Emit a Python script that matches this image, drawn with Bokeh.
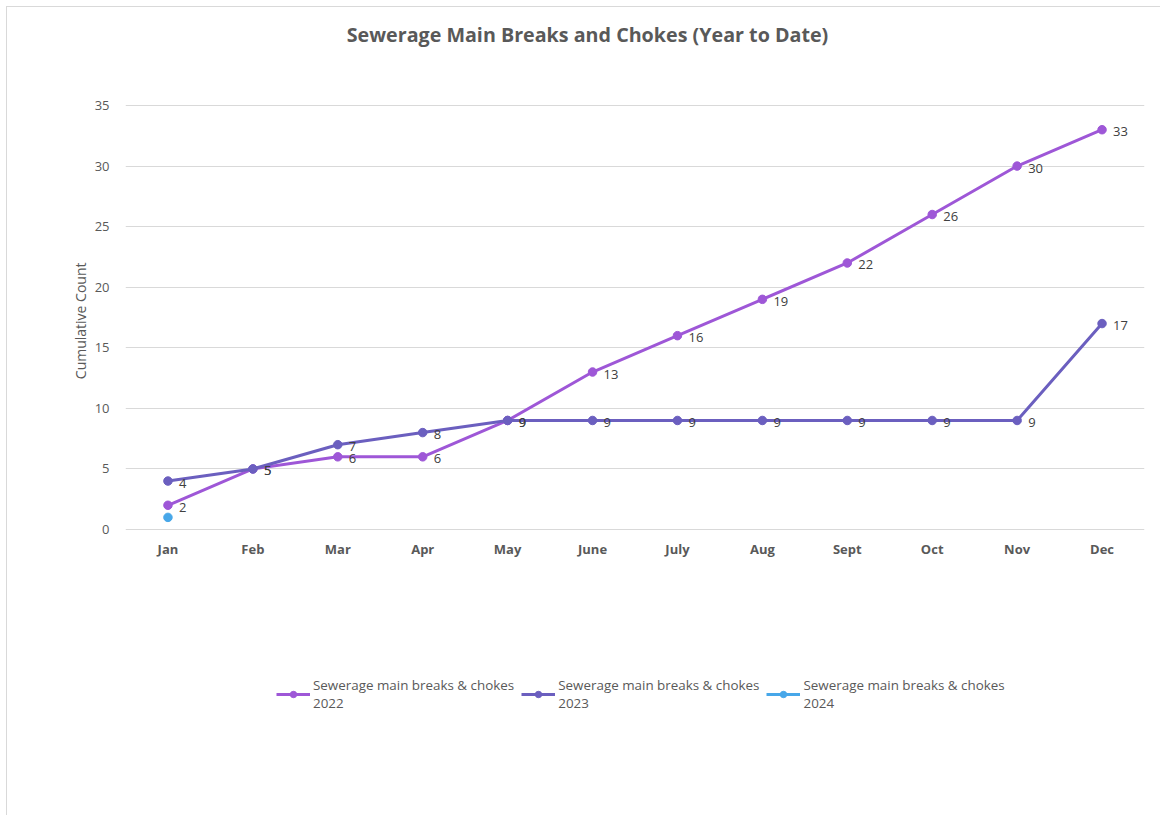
from bokeh.plotting import figure
from bokeh.models import ColumnDataSource, Range1d, FixedTicker, Legend, LegendItem, Title, Label
from bokeh.core.properties import value
from bokeh.embed import file_html
from bokeh.resources import INLINE

# ---- data ----
months = ["Jan", "Feb", "Mar", "Apr", "May", "June", "July", "Aug", "Sept", "Oct", "Nov", "Dec"]
y2022 = [2, 5, 6, 6, 9, 13, 16, 19, 22, 26, 30, 33]
y2023 = [4, 5, 7, 8, 9, 9, 9, 9, 9, 9, 9, 17]
y2024 = [1]
series_names = [
    "Sewerage main breaks & chokes\n2022",
    "Sewerage main breaks & chokes\n2023",
    "Sewerage main breaks & chokes\n2024",
]
y_ticks = [0, 5, 10, 15, 20, 25, 30, 35]
title_text = "Sewerage Main Breaks and Chokes (Year to Date)"
y_label = "Cumulative Count"

# ---- layout (canvas pixels) ----
W, H = 1154, 809
LEFT, RIGHT = 118, 17          # frame left/right borders
TOP_Y = 98                     # pixel row of the top tick (35)
ZERO_Y = 522                   # pixel row of 0
BOTTOM = 46                    # border below the frame
FRAME_BOTTOM = H - BOTTOM
ppu = (ZERO_Y - TOP_Y) / (y_ticks[-1] - y_ticks[0])
y_hi = y_ticks[-1] + TOP_Y / ppu
y_lo = y_ticks[0] - (FRAME_BOTTOM - ZERO_Y) / ppu

# ---- styles ----
colors = ["#9e57d7", "#6b5fbf", "#47a7e9"]
FONT = "Open Sans"
GRAY = "#595959"
LABEL_GRAY = "#404040"

p = figure(
    width=W, height=H,
    x_range=Range1d(-0.5, len(months) - 0.5),
    y_range=Range1d(y_lo, y_hi),
    output_backend="svg", toolbar_location=None,
    min_border_left=LEFT, min_border_right=RIGHT, min_border_top=0, min_border_bottom=BOTTOM,
)
p.styles = {"margin-left": "6px", "margin-top": "6px",
            "border-left": "1px solid #d9d9d9", "border-top": "1px solid #d9d9d9"}
p.outline_line_color = None
p.background_fill_color = "white"
p.border_fill_color = "white"
p.title.text = ""

# title (inside the frame, screen units from frame bottom-left)
p.add_layout(Label(x=462, y=FRAME_BOTTOM - 27, x_units="screen", y_units="screen",
                   text=title_text, text_align="center", text_baseline="middle",
                   text_font=FONT, text_font_size="19.7px", text_font_style="bold",
                   text_color=GRAY))

# axes
p.xaxis.fixed_location = 0
p.xaxis.ticker = FixedTicker(ticks=list(range(len(months))))
p.xaxis.major_label_overrides = {i: m for i, m in enumerate(months)}
p.xaxis.axis_line_color = None
p.xaxis.major_tick_line_color = None
p.xaxis.minor_tick_line_color = None
p.xaxis.major_label_text_font = FONT
p.xaxis.major_label_text_font_size = "13px"
p.xaxis.major_label_text_font_style = "bold"
p.xaxis.major_label_text_color = GRAY
p.xaxis.major_label_standoff = 4

p.yaxis.ticker = FixedTicker(ticks=y_ticks)
p.yaxis.axis_line_color = None
p.yaxis.major_tick_line_color = None
p.yaxis.minor_tick_line_color = None
p.yaxis.major_label_text_font = FONT
p.yaxis.major_label_text_font_size = "13px"
p.yaxis.major_label_text_color = GRAY
p.yaxis.major_label_standoff = 10

ytitle = Title(text=y_label, align="right", offset=255, standoff=4,
               text_font=FONT, text_font_size="14px", text_font_style="normal",
               text_color=GRAY)
p.add_layout(ytitle, "left")

p.xgrid.grid_line_color = None
p.ygrid.grid_line_color = "#d9d9d9"
p.ygrid.grid_line_width = 1

# series
all_series = [y2022, y2023, y2024]
items = []
for vals, name, col in zip(all_series, series_names, colors):
    src = ColumnDataSource(dict(x=list(range(len(vals))), y=vals))
    ln = p.line("x", "y", source=src, line_color=col, line_width=3)
    sc = p.scatter("x", "y", source=src, size=8.5, fill_color=col, line_color=col)
    items.append(LegendItem(label=name, renderers=[ln, sc]))

# data labels (2022 and 2023)
for vals in all_series[:2]:
    src = ColumnDataSource(dict(x=list(range(len(vals))), y=vals, t=[str(v) for v in vals]))
    p.text("x", "y", text="t", source=src, x_offset=11, y_offset=2,
           text_font=value(FONT), text_font_size="13px", text_color=LABEL_GRAY,
           text_baseline="middle", text_align="left")

legend = Legend(items=items, orientation="horizontal", location=(151, 58))
legend.glyph_width = 34
legend.glyph_height = 16
legend.label_standoff = 3
legend.spacing = 7
legend.padding = 0
legend.margin = 0
legend.border_line_color = None
legend.background_fill_alpha = 0
legend.label_text_font = FONT
legend.label_text_font_size = "13.4px"
legend.label_text_color = GRAY
p.add_layout(legend, "center")

open("out.html", "w").write(file_html(p, INLINE))
